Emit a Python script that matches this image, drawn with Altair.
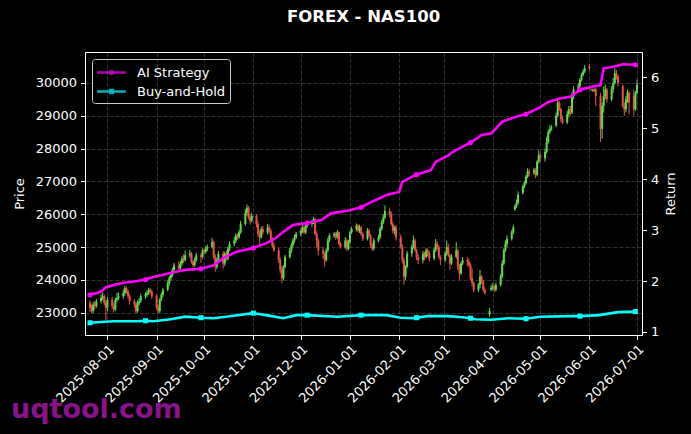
import altair as alt
import pandas as pd

# ---------------- data ----------------
trade_days = pd.bdate_range("2025-07-21", "2026-07-01")

opens = [
    23300, 23150, 23050, 23250, 23200,
    23350, 23450, 23500, 23300, 23150,
    23400, 23200, 23100, 23400, 23450,
    23500, 23600, 23750, 23650, 23500,
    23350, 23250, 23050, 23300, 23350,
    23500, 23550, 23600, 23700, 23650,
    23500, 23150, 23050, 23400, 23550,
    23700, 23900, 24050, 24150, 24300,
    24450, 24350, 24500, 24650, 24600,
    24750, 24800, 24550, 24450, 24600,
    24750, 24700, 24900, 24850, 24950,
    25000, 25150, 24700, 24400, 24600,
    24800, 24500, 24800, 24650, 24950,
    25100, 25200, 25350, 25300, 25450,
    25700, 26050, 26200, 25900, 25800,
    25950, 25700, 25400, 25300, 25550,
    25450, 25600, 25500, 25200, 25050,
    24900, 24600, 24300, 24050, 24400,
    24700, 24900, 25050, 25200, 25300,
    25400, 25500, 25600, 25450, 25650,
    25700, 25750, 25850, 25400, 25200,
    24900, 24800, 24600, 24900, 25200,
    25350, 25400, 25300, 25450, 25100,
    25000, 25200, 24950, 25150, 25450,
    25550, 25650, 25500, 25600, 25400,
    25250, 25500, 25350, 25050, 24950,
    25200, 25300, 25550, 25750, 25900,
    26100, 26000, 25700, 25500, 25600,
    25300, 25000, 24600, 24100, 24400,
    24800, 25000, 25200, 24900, 24700,
    24600, 24800, 24700, 24900, 24800,
    24650, 24900, 25100, 25000, 24700,
    24600, 24800, 25000, 24750, 24500,
    24700, 24900, 24400, 24200, 24500,
    24600, 24550, 24450, 24050, 23900,
    23700, 23850, 24100, 23950, 23700,
    22950, 23700, 23750, 23800, 23700,
    23850, 24100, 24500, 24900, 25100,
    25250, 25450, 26150, 26250, 26350,
    26650, 26850, 26950, 27150, 27300,
    27250, 27350, 27200, 27600, 27800,
    27700, 27900, 28200, 28500, 28600,
    28700, 29000, 29400, 29200, 28900,
    28800, 29050, 29200, 29100, 29600,
    29800, 29900, 30100, 30250, 30350,
    30500, 29800, 29800, 29750, 29800,
    29600, 28600, 29300, 29600, 29800,
    29500, 29800, 30000, 30300, 30200,
    29900, 29300, 29200, 29500, 29700,
    29600, 29200, 29700,
]
highs = [
    23380, 23250, 23330, 23350, 23420,
    23560, 23620, 23550, 23380, 23480,
    23480, 23300, 23460, 23600, 23620,
    23700, 23820, 23800, 23700, 23560,
    23420, 23330, 23380, 23450, 23580,
    23620, 23680, 23760, 23750, 23700,
    23560, 23250, 23450, 23620, 23760,
    23980, 24120, 24230, 24380, 24520,
    24560, 24580, 24720, 24780, 24900,
    24920, 24850, 24600, 24680, 24830,
    24820, 24960, 24950, 25030, 25080,
    25280, 25200, 24780, 24680, 24880,
    24880, 24860, 24900, 25020, 25180,
    25300, 25420, 25420, 25520, 25800,
    26150, 26300, 26250, 26000, 26050,
    26000, 25780, 25500, 25620, 25650,
    25700, 25680, 25560, 25300, 25120,
    24980, 24680, 24420, 24450, 24760,
    24980, 25120, 25260, 25380, 25460,
    25580, 25680, 25660, 25720, 25780,
    25820, 25920, 25880, 25480, 25260,
    25000, 24850, 24960, 25280, 25420,
    25460, 25450, 25520, 25480, 25150,
    25300, 25260, 25220, 25500, 25620,
    25720, 25700, 25680, 25640, 25450,
    25580, 25560, 25400, 25120, 25280,
    25380, 25620, 25820, 26000, 26270,
    26200, 26080, 25780, 25650, 25680,
    25380, 25080, 24680, 24450, 24880,
    25080, 25350, 25260, 24950, 24780,
    24880, 24850, 24960, 24960, 24880,
    24980, 25250, 25180, 25060, 24750,
    24860, 25200, 25100, 24800, 24780,
    25150, 24950, 24480, 24560, 24700,
    24700, 24650, 24500, 24350, 23950,
    23900, 24300, 24150, 24000, 23780,
    23150, 23850, 23900, 23860, 23920,
    24180, 24600, 24960, 25200, 25350,
    25520, 25680, 26300, 26450, 26700,
    26900, 27020, 27200, 27400, 27380,
    27420, 27400, 27650, 27950, 27880,
    28000, 28350, 28580, 28700, 28720,
    29100, 29550, 29450, 29250, 29000,
    29150, 29300, 29300, 29700, 29900,
    30000, 30150, 30300, 30420, 30550,
    30580, 29830, 29830, 29830, 29850,
    29700, 29400, 29900, 29950, 29850,
    29900, 30150, 30450, 30400, 30250,
    29950, 29400, 29600, 29800, 29750,
    29800, 29750, 30100,
]
lows = [
    23020, 22980, 22990, 23100, 23150,
    23280, 23380, 23220, 22780, 23050,
    23120, 23000, 23050, 23320, 23380,
    23420, 23520, 23580, 23430, 23250,
    23150, 22980, 23000, 23220, 23300,
    23420, 23480, 23540, 23580, 23420,
    23100, 22980, 23000, 23350, 23480,
    23650, 23820, 23980, 24080, 24250,
    24250, 24280, 24430, 24520, 24550,
    24680, 24500, 24380, 24400, 24550,
    24520, 24650, 24780, 24800, 24880,
    24950, 24650, 24250, 24330, 24550,
    24350, 24420, 24580, 24600, 24880,
    25020, 25120, 25220, 25250, 25400,
    25650, 25950, 25850, 25680, 25750,
    25600, 25300, 25050, 25250, 25380,
    25380, 25420, 25150, 24980, 24850,
    24520, 24200, 23900, 23980, 24350,
    24650, 24820, 24980, 25130, 25250,
    25320, 25430, 25380, 25400, 25580,
    25620, 25700, 25350, 25000, 24750,
    24650, 24400, 24550, 24850, 25150,
    25280, 25220, 25250, 25050, 24950,
    24950, 24880, 24900, 25100, 25400,
    25480, 25450, 25430, 25350, 25180,
    25200, 25300, 24980, 24880, 24900,
    25150, 25250, 25500, 25700, 25850,
    25920, 25650, 25420, 25380, 25200,
    24950, 24500, 23850, 24000, 24350,
    24700, 24950, 24850, 24600, 24480,
    24500, 24600, 24650, 24720, 24550,
    24600, 24850, 24920, 24650, 24450,
    24550, 24740, 24700, 24300, 24450,
    24650, 24300, 24000, 24150, 24450,
    24420, 24380, 23980, 23800, 23620,
    23620, 23750, 23880, 23640, 23550,
    22880, 23650, 23680, 23620, 23650,
    23800, 24050, 24450, 24850, 25000,
    25200, 25400, 26100, 26200, 26300,
    26600, 26800, 26900, 27100, 27150,
    27200, 27100, 27150, 27550, 27600,
    27600, 27850, 28150, 28450, 28550,
    28650, 28950, 29150, 28800, 28750,
    28750, 28950, 29000, 29050, 29500,
    29700, 29850, 30050, 30200, 30300,
    30380, 29760, 29720, 29740, 29300,
    28200, 28300, 29100, 29500, 29400,
    29450, 29700, 29950, 30100, 29900,
    29250, 29000, 29100, 29400, 29050,
    29000, 29150, 29650,
]
closes = [
    23150, 23050, 23250, 23200, 23350,
    23450, 23500, 23300, 23150, 23400,
    23200, 23100, 23400, 23450, 23500,
    23600, 23750, 23650, 23500, 23350,
    23250, 23050, 23300, 23350, 23500,
    23550, 23600, 23700, 23650, 23500,
    23150, 23050, 23400, 23550, 23700,
    23900, 24050, 24150, 24300, 24450,
    24350, 24500, 24650, 24600, 24750,
    24800, 24550, 24450, 24600, 24750,
    24700, 24900, 24850, 24950, 25000,
    25150, 24700, 24400, 24600, 24800,
    24500, 24800, 24650, 24950, 25100,
    25200, 25350, 25300, 25450, 25700,
    26050, 26200, 25900, 25800, 25950,
    25700, 25400, 25300, 25550, 25450,
    25600, 25500, 25200, 25050, 24900,
    24600, 24300, 24050, 24400, 24700,
    24900, 25050, 25200, 25300, 25400,
    25500, 25600, 25450, 25650, 25700,
    25750, 25850, 25400, 25200, 24900,
    24800, 24600, 24900, 25200, 25350,
    25400, 25300, 25450, 25100, 25000,
    25200, 24950, 25150, 25450, 25550,
    25650, 25500, 25600, 25400, 25250,
    25500, 25350, 25050, 24950, 25200,
    25300, 25550, 25750, 25900, 26100,
    26000, 25700, 25500, 25600, 25300,
    25000, 24600, 24100, 24400, 24800,
    25000, 25200, 24900, 24700, 24600,
    24800, 24700, 24900, 24800, 24650,
    24900, 25100, 25000, 24700, 24600,
    24800, 25000, 24750, 24500, 24700,
    24900, 24400, 24200, 24500, 24600,
    24550, 24450, 24050, 23900, 23700,
    23850, 24100, 23950, 23700, 23600,
    23050, 23750, 23800, 23700, 23850,
    24100, 24500, 24900, 25100, 25250,
    25450, 25600, 26250, 26350, 26600,
    26850, 26950, 27150, 27300, 27250,
    27350, 27200, 27600, 27800, 27700,
    27900, 28200, 28500, 28600, 28650,
    29000, 29400, 29200, 28900, 28800,
    29050, 29200, 29100, 29600, 29800,
    29900, 30100, 30250, 30350, 30450,
    30450, 29800, 29750, 29800, 29600,
    28600, 29300, 29600, 29800, 29500,
    29800, 30000, 30300, 30200, 30000,
    29300, 29200, 29500, 29700, 29400,
    29200, 29700, 29950,
]

ai_dates = [
    "2025-07-21", "2025-07-28", "2025-07-31", "2025-08-10", "2025-08-20",
    "2025-08-25", "2025-08-30", "2025-09-10", "2025-09-19", "2025-09-29",
    "2025-10-07", "2025-10-13", "2025-10-21", "2025-11-01", "2025-11-09",
    "2025-11-15", "2025-11-20", "2025-11-26", "2025-12-05", "2025-12-14",
    "2025-12-20", "2026-01-01", "2026-01-08", "2026-01-13", "2026-01-24",
    "2026-02-01", "2026-02-03", "2026-02-11", "2026-02-12", "2026-02-21",
    "2026-02-24", "2026-03-04", "2026-03-07", "2026-03-13", "2026-03-18",
    "2026-03-25", "2026-03-31", "2026-04-07", "2026-04-17", "2026-04-22",
    "2026-04-30", "2026-05-06", "2026-05-14", "2026-05-20", "2026-05-26",
    "2026-06-03", "2026-06-08", "2026-06-10", "2026-06-16", "2026-06-22",
    "2026-06-30", "2026-07-01",
]
ai_values = [
    1.73, 1.79, 1.88, 1.96, 2.00,
    2.03, 2.08, 2.16, 2.22, 2.24,
    2.31, 2.45, 2.57, 2.65, 2.74,
    2.84, 2.97, 3.10, 3.14, 3.20,
    3.33, 3.39, 3.45, 3.53, 3.69,
    3.75, 3.95, 4.08, 4.09, 4.18,
    4.34, 4.47, 4.54, 4.64, 4.72,
    4.87, 4.90, 5.13, 5.24, 5.28,
    5.40, 5.52, 5.59, 5.62, 5.76,
    5.82, 5.85, 6.18, 6.21, 6.26,
    6.25, 6.25,
]
bh_dates = [
    "2025-07-21", "2025-07-30", "2025-08-05", "2025-08-20", "2025-08-25",
    "2025-08-30", "2025-09-10", "2025-09-19", "2025-09-29", "2025-10-07",
    "2025-10-17", "2025-11-01", "2025-11-11", "2025-11-20", "2025-11-28",
    "2025-12-05", "2025-12-24", "2026-01-08", "2026-01-24", "2026-02-02",
    "2026-02-11", "2026-02-12", "2026-02-19", "2026-03-04", "2026-03-13",
    "2026-03-18", "2026-03-21", "2026-03-31", "2026-04-11", "2026-04-21",
    "2026-04-22", "2026-05-01", "2026-05-20", "2026-05-26", "2026-06-07",
    "2026-06-19", "2026-06-30", "2026-07-01",
]
bh_values = [
    1.18, 1.20, 1.21, 1.21, 1.22,
    1.21, 1.25, 1.30, 1.28, 1.27,
    1.31, 1.37, 1.32, 1.27, 1.33,
    1.33, 1.30, 1.33, 1.33, 1.28,
    1.27, 1.28, 1.31, 1.31, 1.29,
    1.27, 1.25, 1.24, 1.27, 1.26,
    1.26, 1.30, 1.31, 1.31, 1.33,
    1.39, 1.40, 1.40,
]
marker_dates = [
    "2025-07-21", "2025-08-25", "2025-09-29", "2025-11-01", "2025-12-05",
    "2026-01-08", "2026-02-12", "2026-03-18", "2026-04-22", "2026-05-26",
    "2026-06-30",
]
series_names = ["AI Strategy", "Buy-and-Hold"]
month_ticks = [(2025, m) for m in range(8, 13)] + [(2026, m) for m in range(1, 8)]
price_ticks = [23000, 24000, 25000, 26000, 27000, 28000, 29000, 30000]
return_ticks = [1, 2, 3, 4, 5, 6]

# ---------------- style ----------------
UP = "#5fdc4a"
DOWN = "#ea5344"
MAGENTA = "#ff00ff"
CYAN = "#00ffff"
FONT = "DejaVu Sans"

candles = pd.DataFrame({
    "date": trade_days, "open": opens, "high": highs, "low": lows, "close": closes,
})
ai_df = pd.DataFrame({"date": pd.to_datetime(ai_dates), "ret": ai_values})
bh_df = pd.DataFrame({"date": pd.to_datetime(bh_dates), "ret": bh_values})
mk = pd.to_datetime(marker_dates)
ai_mk = ai_df[ai_df["date"].isin(mk)]
bh_mk = bh_df[bh_df["date"].isin(mk)]
legend_df = pd.DataFrame({
    "date": pd.to_datetime(["2026-01-01", "2026-01-01"]),
    "ret": [50, 50],
    "series": series_names,
})
wm_df = pd.DataFrame({"t": ["uqtool.com"]})

xscale = alt.Scale(domain=[alt.DateTime(year=2025, month=7, date=21),
                           alt.DateTime(year=2026, month=7, date=1)], nice=False)
xaxis = alt.Axis(
    values=[alt.DateTime(year=y, month=m, date=1) for (y, m) in month_ticks],
    format="%Y-%m-%d", labelAngle=-45, labelAlign="right", labelBaseline="top",
    grid=True, title=None, zindex=1, labelPadding=3, labelOverlap=False,
)
x_enc = alt.X("date:T", scale=xscale, axis=xaxis)

yl_scale = alt.Scale(domain=[22321, 30943], nice=False, zero=False)
yl_axis = alt.Axis(values=price_ticks, format="d", title="Price", grid=True,
                   titlePadding=9, labelPadding=4)
yr_scale = alt.Scale(domain=[0.94, 6.50], nice=False, zero=False)
yr_axis = alt.Axis(values=return_ticks, format="d", title="Return", grid=False,
                   orient="right", titlePadding=6, labelPadding=4, titleAngle=270,
                   titleBaseline="top")

up_cond = alt.condition("datum.close >= datum.open", alt.value(UP), alt.value(DOWN))

wick = alt.Chart(candles).mark_rule(strokeWidth=1).encode(
    x=x_enc,
    y=alt.Y("low:Q", scale=yl_scale, axis=yl_axis),
    y2="high:Q",
    color=up_cond,
)
body = alt.Chart(candles).mark_bar(size=2).encode(
    x=x_enc,
    y=alt.Y("open:Q", scale=yl_scale, axis=yl_axis),
    y2="close:Q",
    color=up_cond,
)
watermark = alt.Chart(wm_df).mark_text(
    align="left", baseline="alphabetic", font=FONT, fontWeight="bold",
    fontSize=27, color="#8a128a",
).encode(text="t:N", x=alt.value(-74), y=alt.value(366))

left_layer = alt.layer(wick, body, watermark)

yr_enc = alt.Y("ret:Q", scale=yr_scale, axis=yr_axis)
ai_line = alt.Chart(ai_df).mark_line(color=MAGENTA, strokeWidth=2.6).encode(x=x_enc, y=yr_enc)
ai_pts = alt.Chart(ai_mk).mark_circle(color=MAGENTA, size=26, opacity=1).encode(x=x_enc, y=yr_enc)
bh_line = alt.Chart(bh_df).mark_line(color=CYAN, strokeWidth=2.6).encode(x=x_enc, y=yr_enc)
bh_pts = alt.Chart(bh_mk).mark_square(color=CYAN, size=26, opacity=1).encode(x=x_enc, y=yr_enc)

circle_path = "M-1.8,0L1.8,0M-0.18,0A0.18,0.18,0,1,0,0.18,0A0.18,0.18,0,1,0,-0.18,0Z"
square_path = "M-1.8,0L1.8,0M-0.18,-0.18L0.18,-0.18L0.18,0.18L-0.18,0.18Z"
leg = alt.Legend(
    title=None, orient="top-left", offset=7, padding=4,
    fillColor="black", strokeColor="#cccccc", cornerRadius=3,
    labelColor="white", labelFont=FONT, labelFontSize=13,
    symbolSize=256, symbolStrokeWidth=2.5, symbolOffset=6, labelOffset=16,
    rowPadding=2,
)
legend_pts = alt.Chart(legend_df).mark_point(filled=False, strokeWidth=2.5, clip=True).encode(
    x=x_enc, y=yr_enc,
    color=alt.Color("series:N", scale=alt.Scale(domain=series_names, range=[MAGENTA, CYAN]), legend=leg),
    shape=alt.Shape("series:N", scale=alt.Scale(domain=series_names, range=[circle_path, square_path]), legend=leg),
)

right_layer = alt.layer(ai_line, bh_line, ai_pts, bh_pts, legend_pts)

chart = alt.layer(left_layer, right_layer).resolve_scale(y="independent").properties(
    width=557, height=283,
    title=alt.TitleParams("FOREX - NAS100", anchor="middle", offset=27),
    background="black",
    padding={"left": 85, "top": 52, "right": 49, "bottom": 99},
    autosize=alt.AutoSizeParams(type="none"),
).configure_view(
    stroke="white", strokeWidth=1,
).configure_axis(
    domainColor="white", domainWidth=1, tickColor="white", tickWidth=1, tickSize=4.5,
    labelColor="white", titleColor="white", labelFont=FONT, titleFont=FONT,
    labelFontSize=13, titleFontSize=13, titleFontWeight="normal",
    gridColor="#808080", gridDash=[4, 2], gridWidth=0.7, gridOpacity=0.55,
).configure_title(
    color="white", font=FONT, fontSize=16.5, fontWeight="bold",
)

chart.save("out.html", embed_options={"renderer": "svg", "actions": False})
